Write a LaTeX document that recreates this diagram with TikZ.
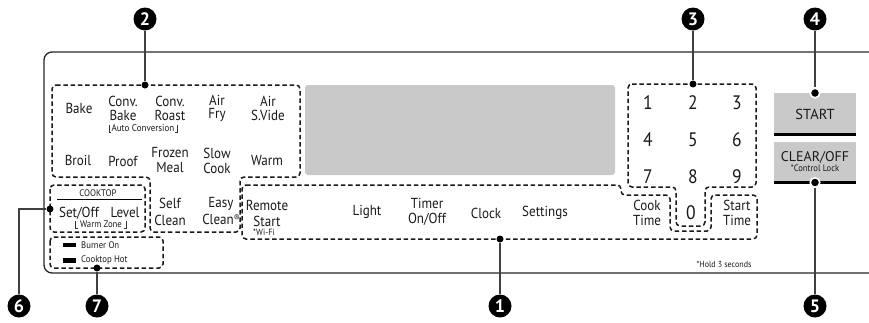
\documentclass[tikz,border=0pt]{standalone}
\usepackage{fontspec}
\newfontfamily\lgfont[FakeStretch=0.9]{PT Sans}
\newfontfamily\smfont[FakeStretch=0.92]{PT Sans}
\newfontfamily\btnfont{PT Sans}
\begin{document}
\begin{tikzpicture}[x=1pt,y=-1pt,
  lbl/.style={font=\lgfont\fontsize{14.5}{15}\selectfont, align=center, inner sep=0pt, text=black!90},
  tight/.style={font=\lgfont\fontsize{14.5}{13.3}\selectfont},
  sm/.style={font=\smfont\fontsize{9.5}{10}\selectfont, inner sep=0pt, text=black!90},
  digit/.style={font=\lgfont\fontsize{19.5}{19}\selectfont, inner sep=0pt, text=black!90},
  grp/.style={draw=black!90, line width=1.5pt, dash pattern=on 4.5pt off 2.8pt, rounded corners=4pt},
  panel/.style={draw=black!85, line width=1.3pt},
  callout/.style={circle, fill=black, text=white, minimum size=23pt, inner sep=0pt, font=\btnfont\bfseries\fontsize{18}{18}\selectfont},
  lead/.style={draw=black!75, line width=1.2pt},
  dot/.style={circle, fill=black, minimum size=7pt, inner sep=0pt},
  hdot/.style={dot, draw=white, line width=1.6pt, minimum size=9.5pt},
  btn/.style={fill=black!21},
  bar/.style={draw=black, line width=3pt},
  brk/.style={draw=black!80, line width=0.5pt}
]
\useasboundingbox (0,0) rectangle (869,322);

% panel outline
\draw[panel, rounded corners=8pt] (869,52) -- (44,52) -- (44,273) -- (869,273);

% display
\fill[black!21, rounded corners=3pt] (305,85) rectangle (615,175);

% buttons
\fill[btn] (774,93) rectangle (856,133);
\draw[bar] (774,134.5) -- (856,134.5);
\fill[btn] (774,142) rectangle (856,181);
\draw[bar] (774,182.5) -- (856,182.5);
\node[lbl, font=\btnfont\fontsize{14.5}{14}\selectfont] (start) at (815,114) {START};
\node[lbl, font=\btnfont\fontsize{14}{14}\selectfont] (clear) at (815,157) {CLEAR/OFF};
\node[sm, font=\smfont\fontsize{9.3}{9}\selectfont] (ctrllock) at (815,168.5) {*Control Lock};

% dashed groups
\draw[grp] (52,85) -- (300,85) -- (300,177) -- (240,177) -- (240,232) -- (150,232) -- (150,177) -- (52,177) -- cycle;
\draw[grp] (50,185) rectangle (145,232);
\draw[grp] (50,237) rectangle (163,268);
\draw[grp] (628,84) -- (756,84) -- (756,187) -- (705,187) -- (705,226) -- (676,226) -- (676,187) -- (628,187) -- cycle;
\draw[grp] (242,185) -- (621,185) -- (621,195) -- (670,195) -- (670,231) -- (711,231) -- (711,195) -- (757,195) -- (757,239) -- (242,239) -- cycle;

% group 2 labels
\node[lbl] (bake) at (79,108) {Bake};
\node[lbl, tight] (convbake) at (123,108.5) {Conv.\\Bake};
\node[lbl, tight] (convroast) at (170,108.5) {Conv.\\Roast};
\node[lbl, tight] (airfry) at (217,108.5) {Air\\Fry};
\node[lbl, tight] (airsvide) at (268,108.5) {Air\\S.Vide};
\node[sm, font=\smfont\fontsize{9.8}{10}\selectfont] (autoconv) at (143,128.5) {Auto Conversion};
\draw[brk] ([xshift=-2.5pt,yshift=6.5pt]autoconv.base west) -- ([xshift=-2.5pt]autoconv.base west) -- ([xshift=-0.3pt]autoconv.base west);
\draw[brk] ([xshift=2.5pt,yshift=6.5pt]autoconv.base east) -- ([xshift=2.5pt]autoconv.base east) -- ([xshift=0.3pt]autoconv.base east);
\node[lbl] (broil) at (78,160) {Broil};
\node[lbl] (proof) at (123,161) {Proof};
\node[lbl] (frozen) at (170,160.5) {Frozen\\Meal};
\node[lbl] (slow) at (217,160.5) {Slow\\Cook};
\node[lbl] (warm) at (267,160) {Warm};
\node[lbl, font=\lgfont\fontsize{14.5}{17}\selectfont] (self) at (170,211.5) {Self\\Clean};
\node[lbl, font=\lgfont\fontsize{14.5}{17}\selectfont] (easy) at (221,211.5) {Easy\\Clean{\fontsize{9.5}{9}\selectfont\raisebox{3.5pt}{®}}};

% cooktop
\node[sm] (cooktop) at (98,193) {COOKTOP};
\draw[draw=black, line width=1pt] (57,199) -- (142,199);
\node[lbl] (setoff) at (79,213) {Set/Off};
\node[lbl] (level) at (125,213) {Level};
\node[sm] (warmzone) at (101,224.5) {Warm Zone};
\draw[brk] ([xshift=-4.5pt,yshift=6.5pt]warmzone.base west) -- ([xshift=-4.5pt]warmzone.base west) -- ([xshift=-2pt]warmzone.base west);
\draw[brk] ([xshift=4.5pt,yshift=6.5pt]warmzone.base east) -- ([xshift=4.5pt]warmzone.base east) -- ([xshift=2pt]warmzone.base east);

% indicators
\fill[black] (63,242.7) rectangle (76,247.3);
\fill[black] (63,258.3) rectangle (76,262.7);
\node[sm, anchor=west] (burner) at (81,245) {Burner On};
\node[sm, anchor=west] (hot) at (81,260.5) {Cooktop Hot};

% group 1 labels
\node[lbl, font=\lgfont\fontsize{14.5}{16}\selectfont] (remote) at (267,213) {Remote\\Start};
\node[sm, font=\smfont\fontsize{9}{9}\selectfont] (wifi) at (264,232) {*Wi-Fi};
\node[lbl] (light) at (367,212) {Light};
\node[lbl] (timer) at (427,211.5) {Timer\\On/Off};
\node[lbl] (clock) at (486,213) {Clock};
\node[lbl] (settings) at (545,213) {Settings};
\node[lbl] (cook) at (647,212.5) {Cook\\Time};
\node[digit] (k0) at (691,213) {0};
\node[lbl] (starttime) at (737,212.5) {Start\\Time};

% keypad
\node[digit] (k1) at (648,103) {1};
\node[digit] (k2) at (693,103) {2};
\node[digit] (k3) at (737,103) {3};
\node[digit] (k4) at (648,140) {4};
\node[digit] (k5) at (693,140) {5};
\node[digit] (k6) at (737,140) {6};
\node[digit] (k7) at (648,177) {7};
\node[digit] (k8) at (693,177) {8};
\node[digit] (k9) at (737,177) {9};

\node[sm, font=\smfont\fontsize{8.7}{9}\selectfont] (hold) at (724,264) {*Hold 3 seconds};

% callouts
\node[callout] (c1) at (500,306) {1};
\node[callout] (c2) at (145,19) {2};
\node[callout] (c3) at (693,19) {3};
\node[callout] (c4) at (815,19) {4};
\node[callout] (c5) at (815,306) {5};
\node[callout] (c6) at (19,306) {6};
\node[callout] (c7) at (97,306) {7};

\node[dot] (d1) at (500,239) {};
\node[dot] (d2) at (145,85) {};
\node[dot] (d3) at (693,84) {};
\node[hdot] (d4) at (815,93) {};
\node[hdot] (d5) at (815,182.5) {};
\node[dot] (d6) at (50,209) {};
\node[dot] (d7) at (97,268) {};

\draw[lead] (c1) -- (d1);
\draw[lead] (c2) -- (d2);
\draw[lead] (c3) -- (d3);
\draw[lead] (c4) -- (d4);
\draw[lead] (c5) -- (d5);
\draw[lead] (c6.north) |- (d6);
\draw[lead] (c7) -- (d7);
\end{tikzpicture}
\end{document}
